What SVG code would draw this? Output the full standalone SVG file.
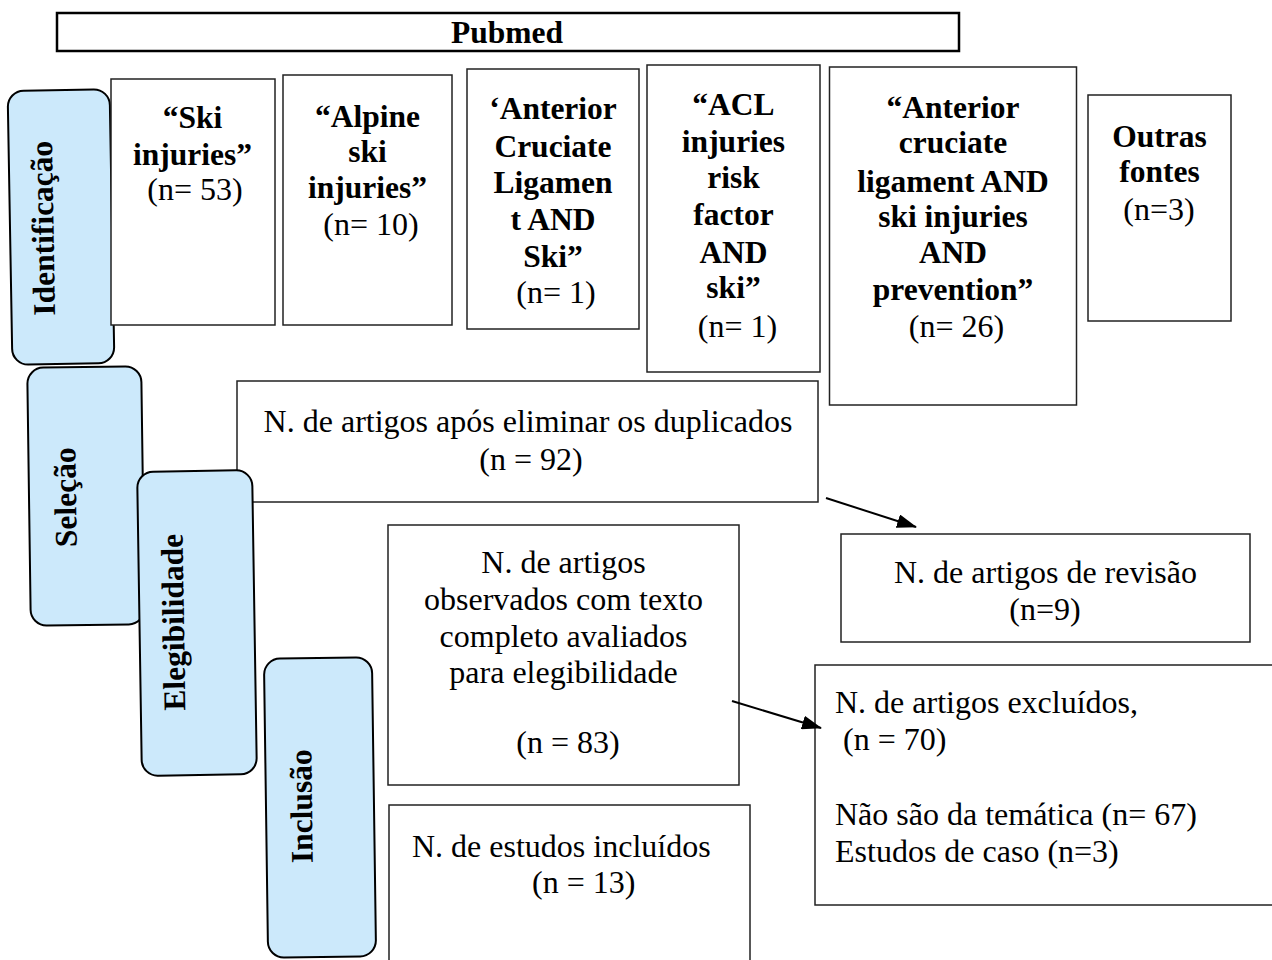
<svg xmlns="http://www.w3.org/2000/svg" width="1272" height="960" viewBox="0 0 1272 960">
<style>
.box{fill:#fff;stroke:#222;stroke-width:1.5}
.lbl{fill:#cce9fb;stroke:#000;stroke-width:2}
.b{font-family:"Liberation Serif","Times New Roman",serif;font-weight:bold;font-size:31.5px;fill:#000;text-anchor:middle}
.r{font-family:"Liberation Serif","Times New Roman",serif;font-size:32px;fill:#000;text-anchor:middle}
.rl{font-family:"Liberation Serif","Times New Roman",serif;font-size:32px;fill:#000}
.con{stroke:#000;stroke-width:2;fill:none}
</style>
<defs>
<marker id="arr" markerUnits="userSpaceOnUse" viewBox="0 0 20 14" refX="19" refY="7" markerWidth="20" markerHeight="14" orient="auto">
<path d="M0,0 L20,7 L0,14 z" fill="#000"/>
</marker>
</defs>
<rect width="1272" height="960" fill="#fff"/>

<g id="pubmed">
<rect x="57" y="13" width="902" height="38" fill="#fff" stroke="#000" stroke-width="2.5"/>
<text class="b" x="507" y="43">Pubmed</text>
</g>

<g id="label-identificacao" transform="rotate(-1 61 227)">
<rect class="lbl" x="10" y="90" width="102" height="274" rx="16"/>
<text class="b" transform="translate(53.5 228) rotate(-90)">Identificação</text>
</g>

<g id="q-ski-injuries">
<rect class="box" x="111" y="79" width="164" height="246"/>
<text class="b" x="192.5" y="128">“Ski</text>
<text class="b" x="192.5" y="165">injuries”</text>
<text class="r" x="195" y="200">(n= 53)</text>
</g>

<g id="q-alpine">
<rect class="box" x="283" y="75" width="169" height="250"/>
<text class="b" x="367.5" y="127">“Alpine</text>
<text class="b" x="367.5" y="162">ski</text>
<text class="b" x="367.5" y="198">injuries”</text>
<text class="r" x="371" y="235">(n= 10)</text>
</g>

<g id="q-acl-ski">
<rect class="box" x="467" y="69" width="172" height="260"/>
<text class="b" x="553" y="119">‘Anterior</text>
<text class="b" x="553" y="157">Cruciate</text>
<text class="b" x="553" y="193">Ligamen</text>
<text class="b" x="553" y="230">t AND</text>
<text class="b" x="553" y="267">Ski”</text>
<text class="r" x="556" y="303">(n= 1)</text>
</g>

<g id="q-acl-risk">
<rect class="box" x="647" y="65" width="173" height="307"/>
<text class="b" x="733.5" y="115">“ACL</text>
<text class="b" x="733.5" y="152">injuries</text>
<text class="b" x="733.5" y="188">risk</text>
<text class="b" x="733.5" y="225">factor</text>
<text class="b" x="733.5" y="263">AND</text>
<text class="b" x="733.5" y="298">ski”</text>
<text class="r" x="737.5" y="337">(n= 1)</text>
</g>

<g id="q-acl-prevention">
<rect class="box" x="829.5" y="67" width="247" height="338"/>
<text class="b" x="953" y="118">“Anterior</text>
<text class="b" x="953" y="153">cruciate</text>
<text class="b" x="953" y="192">ligament AND</text>
<text class="b" x="953" y="227">ski injuries</text>
<text class="b" x="953" y="263">AND</text>
<text class="b" x="953" y="300">prevention”</text>
<text class="r" x="956.5" y="337">(n= 26)</text>
</g>

<g id="q-outras">
<rect class="box" x="1088" y="95" width="143" height="226"/>
<text class="b" x="1159.5" y="147">Outras</text>
<text class="b" x="1159.5" y="182">fontes</text>
<text class="r" x="1159" y="220">(n=3)</text>
</g>

<g id="duplicados">
<rect class="box" x="237" y="381" width="581" height="121"/>
<text class="r" x="528" y="432">N. de artigos após eliminar os duplicados</text>
<text class="r" x="531" y="470">(n = 92)</text>
</g>

<g id="label-selecao" transform="rotate(-0.8 86 496)">
<rect class="lbl" x="29" y="367" width="114" height="258" rx="16"/>
<text class="b" transform="translate(76 497) rotate(-90)">Seleção</text>
</g>

<g id="label-elegibilidade" transform="rotate(-0.9 197 623)">
<rect class="lbl" x="139.5" y="471" width="115" height="304" rx="16"/>
<text class="b" transform="translate(184 622) rotate(-90)">Elegibilidade</text>
</g>

<g id="revisao">
<rect class="box" x="841" y="534" width="409" height="108"/>
<text class="r" x="1045.5" y="583">N. de artigos de revisão</text>
<text class="r" x="1045" y="620">(n=9)</text>
</g>

<g id="elegibilidade-box">
<rect class="box" x="388" y="525" width="351" height="260"/>
<text class="r" x="563.5" y="573">N. de artigos</text>
<text class="r" x="563.5" y="610">observados com texto</text>
<text class="r" x="563.5" y="647">completo avaliados</text>
<text class="r" x="563.5" y="683">para elegibilidade</text>
<text class="r" x="568" y="753">(n = 83)</text>
</g>

<g id="excluidos">
<rect class="box" x="815" y="665" width="470" height="240"/>
<text class="rl" x="835" y="713">N. de artigos excluídos,</text>
<text class="rl" x="843" y="750">(n = 70)</text>
<text class="rl" x="835" y="825">Não são da temática (n= 67)</text>
<text class="rl" x="835" y="862">Estudos de caso (n=3)</text>
</g>

<g id="label-inclusao" transform="rotate(-0.8 320 807)">
<rect class="lbl" x="266" y="658" width="108" height="299" rx="16"/>
<text class="b" transform="translate(312 806) rotate(-90)">Inclusão</text>
</g>

<g id="incluidos">
<rect class="box" x="389" y="805" width="361" height="170"/>
<text class="rl" x="412" y="857">N. de estudos incluídos</text>
<text class="rl" x="532" y="893">(n = 13)</text>
</g>

<g id="connectors">
<line class="con" x1="826" y1="498" x2="916" y2="527" marker-end="url(#arr)"/>
<line class="con" x1="732" y1="701" x2="821" y2="728" marker-end="url(#arr)"/>
</g>
</svg>
